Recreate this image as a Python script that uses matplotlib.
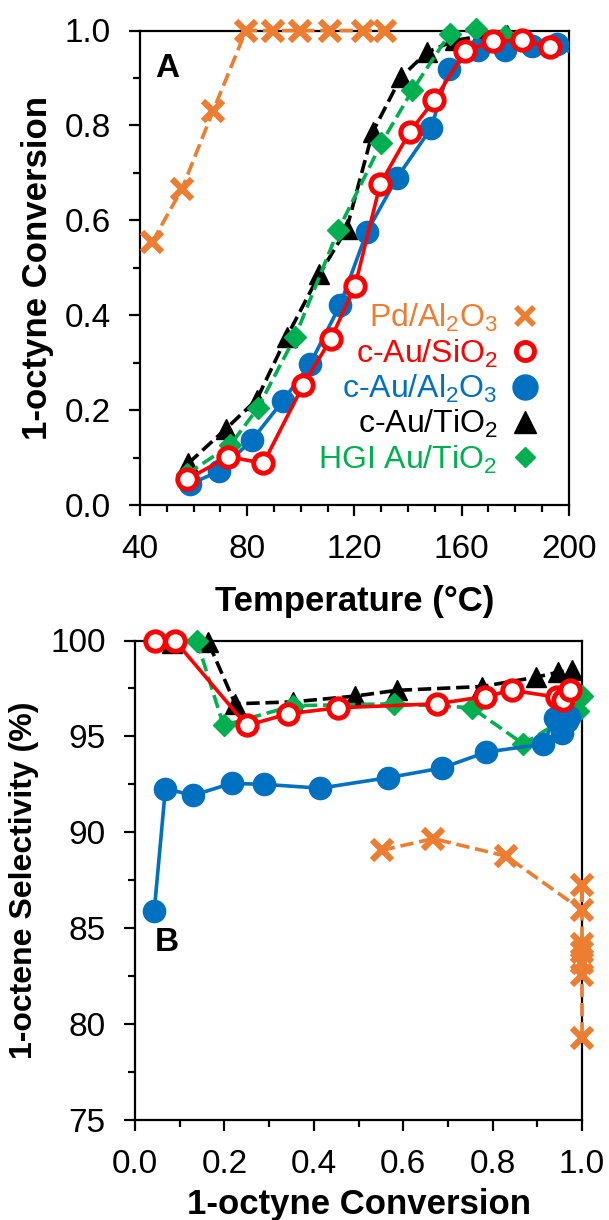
import matplotlib
matplotlib.use("Agg")
import matplotlib.pyplot as plt
from matplotlib.lines import Line2D

plt.rcParams['font.family'] = ['Liberation Sans', 'DejaVu Sans']
plt.rcParams['mathtext.fontset'] = 'custom'
plt.rcParams['mathtext.rm'] = 'Liberation Sans'
plt.rcParams['mathtext.it'] = 'Liberation Sans:italic'
plt.rcParams['mathtext.bf'] = 'Liberation Sans:bold'

# ---- panel A: conversion vs temperature
pd_T = [44.5, 55.7, 67.2, 79.5, 89.6, 99.7, 110.9, 123.2, 131.4]
pd_conv = [0.554, 0.667, 0.830, 1.0, 1.0, 1.0, 1.0, 1.0, 1.0]

si_T = [57.4, 73.0, 86.0, 100.9, 111.1, 120.2, 129.6, 140.7, 149.8, 161.3, 171.8, 182.4, 193.0]
si_conv = [0.054, 0.102, 0.088, 0.253, 0.349, 0.461, 0.676, 0.787, 0.853, 0.956, 0.977, 0.979, 0.966]

al_T = [58.7, 69.6, 81.9, 93.2, 103.4, 114.6, 124.6, 135.9, 148.6, 155.3, 166.2, 176.2, 186.2, 195.5, 205.0]
al_conv = [0.044, 0.072, 0.138, 0.219, 0.297, 0.421, 0.575, 0.690, 0.794, 0.919, 0.958, 0.958, 0.968, 0.971, 0.940]

ti_T = [58.0, 72.1, 83.5, 94.7, 106.9, 117.1, 126.8, 137.3, 147.0, 157.5, 167.0, 177.0]
ti_conv = [0.088, 0.161, 0.222, 0.354, 0.486, 0.582, 0.786, 0.901, 0.954, 0.979, 0.988, 0.990]

hgi_T = [57.4, 73.6, 83.9, 97.8, 114.0, 130.0, 141.6, 155.5, 165.3, 176.2]
hgi_conv = [0.065, 0.126, 0.204, 0.354, 0.580, 0.762, 0.874, 0.993, 1.003, 0.989]

# ---- panel B: selectivity vs conversion
pd_x = [0.552, 0.667, 0.831, 1.0, 1.0, 1.0, 1.0, 1.0, 1.0, 1.0]
pd_sel = [89.06, 89.67, 88.75, 85.94, 87.24, 84.20, 83.77, 83.16, 82.55, 79.25]

si_x = [0.045, 0.089, 0.250, 0.343, 0.453, 0.675, 0.783, 0.843, 0.943, 0.958, 0.973]
si_sel = [100.0, 100.0, 95.57, 96.18, 96.49, 96.70, 97.08, 97.40, 97.05, 96.90, 97.40]

al_x = [0.043, 0.068, 0.130, 0.216, 0.289, 0.414, 0.567, 0.686, 0.786, 0.912, 0.940, 0.955, 0.958, 0.966, 0.970]
al_sel = [85.9, 92.27, 91.93, 92.55, 92.5, 92.3, 92.85, 93.35, 94.18, 94.6, 95.95, 95.2, 95.9, 95.8, 96.0]

ti_x = [0.082, 0.164, 0.224, 0.353, 0.492, 0.585, 0.776, 0.898, 0.947, 0.977]
ti_sel = [99.85, 99.9, 96.7, 96.8, 97.1, 97.4, 97.6, 98.09, 98.35, 98.44]

hgi_x = [0.052, 0.138, 0.198, 0.354, 0.580, 0.753, 0.869, 0.990, 1.0]
hgi_sel = [100.0, 100.0, 95.57, 96.6, 96.7, 96.5, 94.6, 96.35, 97.1]

orange = '#ED7D31'
red = '#FF0000'
blue = '#0070C0'
green = '#00B050'

fig = plt.figure(figsize=(6.09, 12.2), dpi=100)
axA = fig.add_axes([0.230, 0.586, 0.704, 0.389])
axB = fig.add_axes([0.2217, 0.082, 0.734, 0.393])

lw = 2.6
kw = dict(lw=lw, clip_on=False)
tri = dict(marker='^', ms=15)
dia = dict(marker='D', ms=11.5)
dot = dict(marker='o', ms=16)
ring = dict(marker='o', ms=14, mfc='white', mew=3.5)
cross = dict(marker='x', ms=14, mew=4.5)

# order picked so overlaps look like the original
axA.plot(ti_T, ti_conv, '--', color='black', zorder=3, **tri, **kw)
axA.plot(hgi_T, hgi_conv, '--', color=green, zorder=4, **dia, **kw)
axA.plot(al_T, al_conv, '-', color=blue, lw=lw, zorder=5, **dot)
axA.plot(si_T, si_conv, '-', color=red, zorder=6, **ring, **kw)
axA.plot(pd_T, pd_conv, '--', color=orange, zorder=7, **cross, **kw)

axB.plot(ti_x, ti_sel, '--', color='black', zorder=3, **tri, **kw)
axB.plot(hgi_x, hgi_sel, '--', color=green, zorder=4, **dia, **kw)
axB.plot(al_x, al_sel, '-', color=blue, zorder=5, **dot, **kw)
axB.plot(si_x, si_sel, '-', color=red, zorder=6, **ring, **kw)
axB.plot(pd_x, pd_sel, '--', color=orange, zorder=7, **cross, **kw)

labels = [r'Pd/Al$_\mathrm{2}$O$_\mathrm{3}$', r'c-Au/SiO$_\mathrm{2}$',
          r'c-Au/Al$_\mathrm{2}$O$_\mathrm{3}$', r'c-Au/TiO$_\mathrm{2}$',
          r'HGI Au/TiO$_\mathrm{2}$']
cols = [orange, red, blue, 'black', green]
handles = [
    Line2D([], [], ls='none', color=orange, marker='x', ms=13, mew=4),
    Line2D([], [], ls='none', color=red, marker='o', ms=13, mfc='white', mew=3.5),
    Line2D([], [], ls='none', color=blue, marker='o', ms=18),
    Line2D([], [], ls='none', color='black', marker='^', ms=16),
    Line2D([], [], ls='none', color=green, marker='D', ms=10),
]
axA.legend(handles, labels, loc='lower right', bbox_to_anchor=(0.99, 0.015),
           frameon=False, markerfirst=False, labelcolor=cols, fontsize=23,
           handletextpad=0.3, labelspacing=0.1, handlelength=1.1, borderpad=0.2)

axA.set_xlim(40, 200)
axA.set_ylim(0, 1.0)
axA.set_xticks([40, 80, 120, 160, 200])
axA.set_xticks(range(40, 201, 10), minor=True)
axA.set_yticks([0, 0.2, 0.4, 0.6, 0.8, 1.0])
axA.set_yticklabels(['0.0', '0.2', '0.4', '0.6', '0.8', '1.0'])
axA.set_yticks([0.1, 0.3, 0.5, 0.7, 0.9], minor=True)
axA.set_xlabel('Temperature (°C)', fontsize=25, fontweight='bold', labelpad=14)
axA.set_ylabel('1-octyne Conversion', fontsize=25, fontweight='bold', labelpad=8)
axA.text(0.035, 0.92, 'A', transform=axA.transAxes, fontsize=24, fontweight='bold',
         va='center', ha='left')

axB.set_xlim(0, 1.0)
axB.set_ylim(75, 100)
axB.set_xticks([0, 0.2, 0.4, 0.6, 0.8, 1.0])
axB.set_xticklabels(['0.0', '0.2', '0.4', '0.6', '0.8', '1.0'])
axB.set_xticks([0.1, 0.3, 0.5, 0.7, 0.9], minor=True)
axB.set_yticks([75, 80, 85, 90, 95, 100])
axB.set_yticks([77.5, 82.5, 87.5, 92.5, 97.5], minor=True)
axB.set_xlabel('1-octyne Conversion', fontsize=25, fontweight='bold', labelpad=6)
axB.set_ylabel('1-octene Selectivity (%)', fontsize=23, fontweight='bold', labelpad=8)
axB.text(0.045, 0.37, 'B', transform=axB.transAxes, fontsize=24, fontweight='bold',
         va='center', ha='left')

for ax in (axA, axB):
    for s in ax.spines.values():
        s.set_linewidth(1.6)
    ax.tick_params(which='major', direction='out', length=8, width=1.6,
                   labelsize=24, pad=13)
    ax.tick_params(which='minor', direction='out', length=5, width=1.6)

fig.savefig('out.png', dpi=100)
